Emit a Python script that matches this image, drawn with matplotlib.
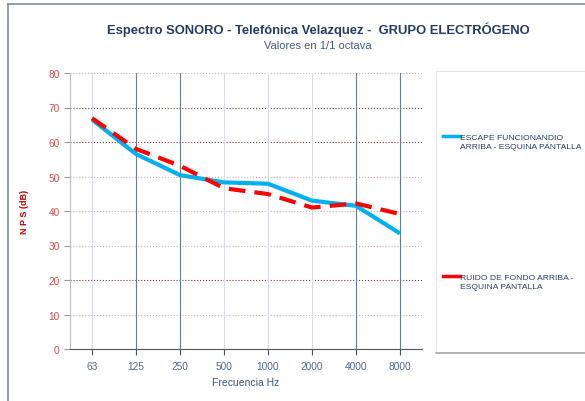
import matplotlib.pyplot as plt
from matplotlib.lines import Line2D
from matplotlib.patches import Rectangle

plt.rcParams['font.family'] = ['Liberation Sans', 'DejaVu Sans']

# Octave bands and measured levels
bands = ['63', '125', '250', '500', '1000', '2000', '4000', '8000']
escape = [66.5, 56.5, 50.4, 48.3, 47.9, 43.0, 41.5, 33.5]
fondo = [66.9, 58.0, 53.1, 46.6, 44.9, 41.0, 42.2, 39.1]
escape_label = 'ESCAPE FUNCIONANDIO\nARRIBA - ESQUINA PANTALLA'
fondo_label = 'RUIDO DE FONDO ARRIBA -\nESQUINA PANTALLA'

fig = plt.figure(figsize=(5.85, 4.02), dpi=100)
W, H = 585, 402

# Outer chart frame
fig.add_artist(Line2D([8 / W, 8 / W], [0, 1 - 5 / H], color='#8090A8', lw=1.2))
fig.add_artist(Line2D([8 / W, 1], [1 - 5 / H, 1 - 5 / H], color='#8090A8', lw=1.2))

fig.text(318 / W, 1 - 30 / H, 'Espectro SONORO - Telefónica Velazquez -  GRUPO ELECTRÓGENO',
         ha='center', va='center', fontsize=9.4, fontweight='bold', color='#243B63')
fig.text(318 / W, 1 - 46 / H, 'Valores en 1/1 octava',
         ha='center', va='center', fontsize=8, color='#4A5A78')

ax = fig.add_axes([70 / W, 1 - 350 / H, 352 / W, 276 / H])
x = list(range(len(bands)))

# Grid lines
dark_y = {20, 60, 70}
for v in range(10, 81, 10):
    ax.axhline(v, color='#7A3A3A' if v in dark_y else '#D9A8A8',
               lw=0.8, ls=':', zorder=0)
dark_x = {1, 2, 6, 7}
for i in x:
    ax.axvline(i, color='#6A7A90' if i in dark_x else '#D8DDE8', lw=0.8, zorder=0)

ax.plot(x, escape, color='#00B0F0', lw=3, solid_capstyle='butt', zorder=3)
ax.plot(x, fondo, color='#FF0000', lw=3, dashes=(4, 2.2), zorder=4)

ax.set_xlim(-0.5, 7.5)
ax.set_ylim(0, 80)
ax.set_yticks(range(0, 81, 10))
ax.set_xticks(x)
ax.set_xticklabels(bands)
ax.tick_params(axis='y', colors='#999999', labelcolor='#D0504D', labelsize=7.3,
               length=4, width=0.8)
ax.tick_params(axis='x', colors='#555555', labelcolor='#4F6A8F', labelsize=7.3,
               length=4, width=0.8, pad=5)
for s in ['top', 'right']:
    ax.spines[s].set_visible(False)
ax.spines['left'].set_color('#BBBBBB')
ax.spines['bottom'].set_color('#555555')
ax.set_xlabel('Frecuencia Hz', fontsize=7.5, color='#3F5475', labelpad=4)
ax.set_ylabel('N P S (dB)', fontsize=6.5, fontweight='bold', color='#C00000', labelpad=14)

# Legend panel
fig.add_artist(Rectangle((436 / W, 1 - 353 / H), 149 / W, 281 / H,
                         transform=fig.transFigure, facecolor='white',
                         edgecolor='#E4E4E4', lw=0.8))
fig.add_artist(Line2D([436 / W, 1], [1 - 354 / H, 1 - 354 / H], color='#A8A8A8', lw=1.2))
fig.add_artist(Line2D([443 / W, 460 / W], [1 - 137 / H, 1 - 137 / H],
                      color='#00B0F0', lw=2.5))
fig.text(460 / W, 1 - 143 / H, escape_label, ha='left', va='center',
         fontsize=6.1, color='#2A3F66', linespacing=1.45)
fig.add_artist(Line2D([443 / W, 460 / W], [1 - 277 / H, 1 - 277 / H],
                      color='#FF0000', lw=2.5))
fig.text(460 / W, 1 - 283 / H, fondo_label, ha='left', va='center',
         fontsize=6.1, color='#2A3F66', linespacing=1.45)

fig.savefig('out.png', dpi=100)
